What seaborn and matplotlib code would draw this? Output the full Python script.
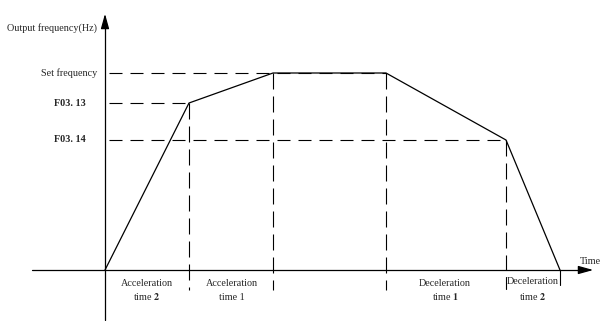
import matplotlib
matplotlib.use("Agg")
import matplotlib.pyplot as plt
import seaborn as sns
import pandas as pd

# profile corners (time, output frequency), origin at the axes crossing
time_pts = [0, 84, 168, 281, 401, 455]
freq_pts = [0, 167, 197, 197, 130, 0]

set_freq = 197
f0313 = 167
f0314 = 130

level_names = ["Set frequency", "F03. 13", "F03. 14"]
level_values = [set_freq, f0313, f0314]
level_ends = [281, 84, 401]
level_bold = [False, True, True]

span_top = ["Acceleration", "Acceleration", "Deceleration", "Deceleration"]
span_num = ["2", "1", "1", "2"]
span_num_bold = [True, False, True, True]
span_centres = [42, 127, 340, 428]

sns.set_style("white")
plt.rcParams['font.family'] = ['Liberation Serif', 'DejaVu Serif']
plt.rcParams['mathtext.fontset'] = 'stix'

fig = plt.figure(figsize=(6, 3.21), dpi=100)
ax = fig.add_axes([0, 0, 1, 1])
ax.set_xlim(-105, 495)
ax.set_ylim(-51, 270)
ax.axis('off')

profile = pd.DataFrame({'t': time_pts, 'f': freq_pts})
sns.lineplot(data=profile, x='t', y='f', color='black', lw=0.9, ax=ax,
             sort=False, estimator=None)

# axes with arrows
ax.plot([-73, 482], [0, 0], color='black', lw=0.9)
ax.plot([0, 0], [-50, 250], color='black', lw=0.9)
ax.annotate('', xy=(491, 0), xytext=(479, 0),
            arrowprops=dict(arrowstyle='-|>,head_width=0.25,head_length=0.9',
                            color='black', lw=0.9))
ax.annotate('', xy=(0, 259), xytext=(0, 247),
            arrowprops=dict(arrowstyle='-|>,head_width=0.25,head_length=0.9',
                            color='black', lw=0.9))

hdash = (0, (11.7, 7.2))
vdash = (0, (14.4, 6.3))
for name, val, end, bold in zip(level_names, level_values, level_ends, level_bold):
    ax.plot([4, end], [val, val], color='black', lw=0.8, linestyle=hdash)
    ax.text(-8 if not bold else -19, val, name, ha='right', va='center',
            fontsize=7.3, fontweight='bold' if bold else 'normal')

# vertical guides
for t, f in zip(time_pts[1:4], freq_pts[1:4]):
    ax.plot([t, t], [f, -20], color='black', lw=0.8, linestyle=vdash)
ax.plot([time_pts[4]] * 2, [freq_pts[4], 0], color='black', lw=0.8, linestyle=vdash)
ax.plot([time_pts[4]] * 2, [-7, -19], color='black', lw=0.8)
ax.plot([time_pts[5]] * 2, [0, -15], color='black', lw=0.8)

for top, num, nb, cx in zip(span_top, span_num, span_num_bold, span_centres):
    dy = 1 if cx > 400 else 0
    ax.text(cx, -13 + dy, top, ha='center', va='center', fontsize=7.3)
    lower = 'time ' + (r'$\mathbf{' + num + '}$' if nb else num)
    ax.text(cx, -27 + dy, lower, ha='center', va='center', fontsize=7.3)

ax.text(-8, 242, 'Output frequency(Hz)', ha='right', va='center', fontsize=7.3)
ax.text(475, 8, 'Time', ha='left', va='center', fontsize=7.3)

fig.savefig('out.png', dpi=100)
plt.close()
